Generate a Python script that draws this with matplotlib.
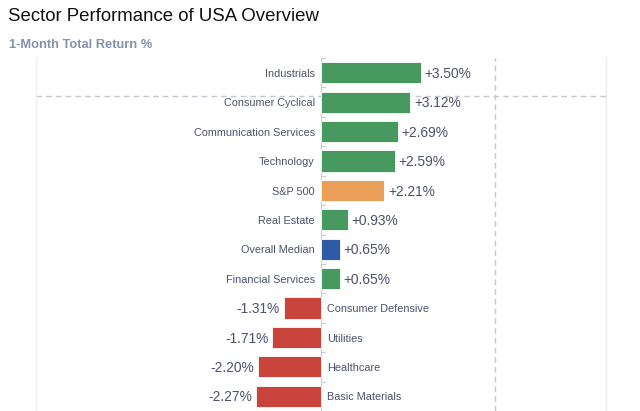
import matplotlib.pyplot as plt

plt.rcParams['font.family'] = ['Liberation Sans', 'DejaVu Sans']

# Data
sectors = [
    "Industrials", "Consumer Cyclical", "Communication Services", "Technology",
    "S&P 500", "Real Estate", "Overall Median", "Financial Services",
    "Consumer Defensive", "Utilities", "Healthcare", "Basic Materials",
]
returns = [3.50, 3.12, 2.69, 2.59, 2.21, 0.93, 0.65, 0.65, -1.31, -1.71, -2.20, -2.27]

GREEN = "#47995f"
RED = "#c9443a"
ORANGE = "#e99f58"
BLUE = "#2d5ba6"
TEXT = "#4b5169"

colors = []
for name, val in zip(sectors, returns):
    if name == "S&P 500":
        colors.append(ORANGE)
    elif name == "Overall Median":
        colors.append(BLUE)
    elif val >= 0:
        colors.append(GREEN)
    else:
        colors.append(RED)

fig = plt.figure(figsize=(6.4, 4.11), dpi=100)
fig.text(0.012, 0.96, "Sector Performance of USA Overview", fontsize=13.4,
         color="#111111", va="center", ha="left")
fig.text(0.014, 0.89, "1-Month Total Return %", fontsize=9.3, fontweight="bold",
         color="#8591a9", va="center", ha="left")

ax = fig.add_axes([36 / 640, 0.0, 570 / 640, 1 - 58 / 411])
ypos = list(range(len(sectors)))
ax.barh(ypos, returns, height=0.72, color=colors, edgecolor="white", linewidth=0.6, zorder=3)

ax.set_xlim(-10, 10)
ax.set_ylim(len(sectors) - 0.5, -0.5)

for y, name, val in zip(ypos, sectors, returns):
    ty = y + 0.04
    if val >= 0:
        ax.text(-0.22, ty, name, ha="right", va="center", fontsize=7.8, color=TEXT)
        ax.text(val + 0.14, ty, f"+{val:.2f}%", ha="left", va="center", fontsize=9.9, color=TEXT)
    else:
        ax.text(0.2, ty, name, ha="left", va="center", fontsize=7.8, color=TEXT)
        ax.text(val - 0.14, ty, f"{val:.2f}%", ha="right", va="center", fontsize=9.9, color=TEXT)

# zero line with small ticks at row boundaries
ax.axvline(0, color="#c8ccd4", linewidth=0.8, zorder=2)
for b in range(len(sectors)):
    ax.plot([0, 0.15], [b - 0.5, b - 0.5], color="#c8ccd4", linewidth=0.8, zorder=2)

# hover crosshair
ax.axvline(6.12, color="#c4c6d0", linewidth=1, linestyle=(0, (4, 3)), zorder=1)
ax.axhline(0.78, color="#c4c6d0", linewidth=1, linestyle=(0, (4, 3)), zorder=1)

ax.set_xticks([])
ax.set_yticks([])
for side in ["top", "bottom"]:
    ax.spines[side].set_visible(False)
for side in ["left", "right"]:
    ax.spines[side].set_color("#eeeeee")
    ax.spines[side].set_linewidth(1)

fig.savefig("out.png", dpi=100)
